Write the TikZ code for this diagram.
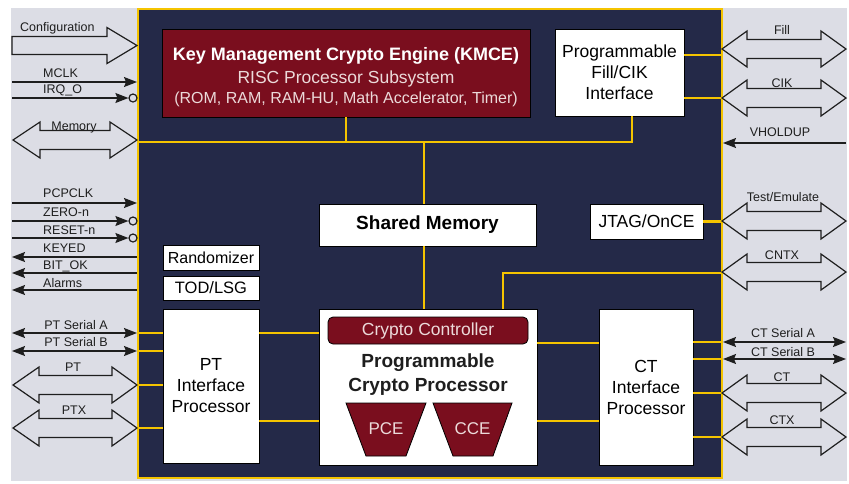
\documentclass[tikz,border=0pt]{standalone}
\usepackage{fontspec}
\setmainfont{Liberation Sans}
\usetikzlibrary{arrows.meta}
\definecolor{navy}{RGB}{36,41,72}
\definecolor{yel}{RGB}{245,196,0}
\definecolor{dred}{RGB}{122,14,30}
\definecolor{bggray}{RGB}{220,221,229}
\definecolor{pinktxt}{RGB}{236,218,218}
\definecolor{ink}{RGB}{30,30,30}
\newcommand\dblarr[5]{\draw[fatarrow] ({#1},{#5}) -- ({#2},{#5-18}) -- ({#2},{#5-9.5}) -- ({#3},{#5-9.5}) -- ({#3},{#5-18}) -- ({#4},{#5}) -- ({#3},{#5+18}) -- ({#3},{#5+9.5}) -- ({#2},{#5+9.5}) -- ({#2},{#5+18}) -- cycle;}
\begin{document}
\begin{tikzpicture}[x=1pt,y=-1pt,
  box/.style={draw=black, line width=0.8pt, fill=white, inner sep=0pt, align=center, font=\fontsize{17.5}{21}\selectfont},
  redbox/.style={draw=black, line width=0.8pt, fill=dred, inner sep=0pt},
  bus/.style={yel, line width=2.6pt},
  sig/.style={line width=1.3pt, ink},
  tip/.style={-{Stealth[length=13pt,width=10pt,inset=2pt]}},
  tiptwo/.style={{Stealth[length=13pt,width=10pt,inset=2pt]}-{Stealth[length=13pt,width=10pt,inset=2pt]}},
  fatarrow/.style={draw=ink, line width=1.2pt, fill=bggray, line join=miter},
  lbl/.style={font=\fontsize{12.5}{14}\selectfont, inner sep=0pt, text=ink},
  inv/.style={circle, draw=ink, line width=1.2pt, fill=bggray, inner sep=0pt, minimum size=8pt},
  ptxt/.style={text=pinktxt, inner sep=0pt}
]
\useasboundingbox (0,0) rectangle (849,483);
\fill[white] (0,0) rectangle (849,483);
\fill[bggray] (11,8) rectangle (847,481);
\node[draw=yel, line width=2.5pt, fill=navy, minimum width=584pt, minimum height=469pt, inner sep=0pt] (main) at (430,243.5) {};

% KMCE
\node[redbox, minimum width=368pt, minimum height=88pt] (kmce) at (346,73) {};
\node[font=\bfseries\fontsize{18}{20}\selectfont, text=white, anchor=base, inner sep=0pt] (kmceA) at (346,60.5) {Key Management Crypto Engine (KMCE)};
\node[ptxt, font=\fontsize{17.5}{20}\selectfont, anchor=base] (kmceB) at (346,83.3) {RISC Processor Subsystem};
\node[ptxt, font=\fontsize{16}{20}\selectfont, anchor=base] (kmceC) at (346,103.8) {(ROM, RAM, RAM-HU, Math Accelerator, Timer)};

\node[box, minimum width=129pt, minimum height=87pt] (fillcik) at (619.5,72.5) {Programmable\\Fill/CIK\\Interface};
\node[box, font=\bfseries\fontsize{19}{22}\selectfont, minimum width=217pt, minimum height=42pt] (shm) at (427.5,225) {Shared Memory};
\node[box, minimum width=113pt, minimum height=35pt] (jtag) at (646.5,221.5) {JTAG/OnCE};
\node[box, font=\fontsize{16}{18}\selectfont, minimum width=96pt, minimum height=25pt] (rand) at (211,257.5) {Randomizer};
\node[box, font=\fontsize{16.5}{18}\selectfont, minimum width=96pt, minimum height=24pt] (tod) at (211,288) {TOD/LSG};
\node[box, minimum width=96pt, minimum height=154pt] (pt) at (211,386) {PT\\Interface\\Processor};
\node[box, minimum width=218pt, minimum height=156pt] (cp) at (428,387) {};
\node[box, minimum width=94pt, minimum height=156pt] (ct) at (646,387) {CT\\Interface\\Processor};
\node[redbox, rounded corners=5pt, minimum width=200pt, minimum height=27pt, text=pinktxt, font=\fontsize{17.5}{20}\selectfont] (cc) at (428,330.5) {Crypto Controller};
\node[font=\bfseries\fontsize{19}{24}\selectfont, align=center, inner sep=0pt, text=ink] (cpt) at (428,375) {Programmable\\Crypto Processor};
\draw[redbox] (346,403) -- (426,403) -- (406,456) -- (366,456) -- cycle;
\node[ptxt, font=\fontsize{17}{20}\selectfont] (pce) at (386,429) {PCE};
\draw[redbox] (433,403) -- (512,403) -- (493,456) -- (453,456) -- cycle;
\node[ptxt, font=\fontsize{17}{20}\selectfont] (cce) at (472.5,429) {CCE};

% buses
\coordinate (busL) at (138,142);
\coordinate (busR) at (632,142);
\coordinate (busM) at (424,142);
\draw[bus] (busL) -- (busR) -- (fillcik.south -| busR);
\draw[bus] (kmce.south) -- (kmce.south |- busL);
\draw[bus] (busM) -- (busM |- shm.north);
\draw[bus] (shm.south -| busM) -- (cp.north -| busM);
\coordinate (cntx) at (722,273);
\coordinate (cpB) at (503,273);
\draw[bus] (cntx) -- (cpB) -- (cpB |- cp.north);
\draw[bus] (jtag.east) -- (jtag.east -| main.east);
\foreach \y in {55,98} \draw[bus] (fillcik.east |- 0,\y) -- (main.east |- 0,\y);
\foreach \y in {333,351,385,428} \draw[bus] (main.west |- 0,\y) -- (pt.west |- 0,\y);
\foreach \y in {333,421} \draw[bus] (pt.east |- 0,\y) -- (cp.west |- 0,\y);
\foreach \y in {343,421} \draw[bus] (cp.east |- 0,\y) -- (ct.west |- 0,\y);
\foreach \y in {342,359,393,437} \draw[bus] (ct.east |- 0,\y) -- (main.east |- 0,\y);

% left signals
\draw[fatarrow] (12,36.5) -- (107,36.5) -- (107,27.5) -- (137,45.5) -- (107,63.5) -- (107,54.5) -- (12,54.5) -- cycle;
\node[lbl, anchor=base west] (lconf) at (20,31.5) {Configuration};
\draw[sig,tip] (12,82) -- (137,82);
\node[lbl, anchor=base west] (lmclk) at (43,77.5) {MCLK};
\node[inv] (irq) at (133,98) {};
\draw[sig,tip] (12,98) -- (irq.west);
\node[lbl, anchor=base west] (lirq) at (43,93.5) {IRQ\_O};
\dblarr{13}{40}{110}{137}{140}
\node[lbl, anchor=base] (lmem) at (74,130.5) {Memory};
\draw[sig,tip] (12,203) -- (137,203);
\node[lbl, anchor=base west] (lpcp) at (43,197.5) {PCPCLK};
\node[inv] (zero) at (133,221) {};
\draw[sig,tip] (12,221) -- (zero.west);
\node[lbl, anchor=base west] (lzero) at (43,216.5) {ZERO-n};
\node[inv] (reset) at (133,238) {};
\draw[sig,tip] (12,238) -- (reset.west);
\node[lbl, anchor=base west] (lreset) at (43,234.5) {RESET-n};
\draw[sig,tip] (137,257) -- (12,257);
\node[lbl, anchor=base west] (lkeyed) at (43,252.5) {KEYED};
\draw[sig,tip] (137,273) -- (12,273);
\node[lbl, anchor=base west] (lbit) at (43,269.5) {BIT\_OK};
\draw[sig,tip] (137,290) -- (12,290);
\node[lbl, anchor=base west] (lalarm) at (43,287.5) {Alarms};
\draw[sig,tiptwo] (12,333) -- (137,333);
\node[lbl, anchor=base] (lpsa) at (76,329.5) {PT Serial A};
\draw[sig,tiptwo] (12,351) -- (137,351);
\node[lbl, anchor=base] (lpsb) at (76,346.5) {PT Serial B};
\dblarr{13}{39}{112}{137}{385}
\node[lbl, anchor=base] (lpt) at (73,371.5) {PT};
\dblarr{13}{39}{112}{137}{428}
\node[lbl, anchor=base] (lptx) at (74,414.5) {PTX};

% right signals
\dblarr{722}{747}{821}{846}{49}
\node[lbl, anchor=base] (lfill) at (782,34) {Fill};
\dblarr{722}{747}{821}{846}{98}
\node[lbl, anchor=base] (lcik) at (782,87.5) {CIK};
\draw[sig,tip] (846,143) -- (723,143);
\node[lbl, anchor=base] (lvh) at (780,136.5) {VHOLDUP};
\dblarr{722}{747}{821}{846}{221}
\node[lbl, anchor=base] (ltest) at (783,201.5) {Test/Emulate};
\dblarr{722}{747}{821}{846}{272}
\node[lbl, anchor=base] (lcntx) at (782,259.5) {CNTX};
\draw[sig,tiptwo] (723,342) -- (846,342);
\node[lbl, anchor=base] (lcsa) at (783,337.5) {CT Serial A};
\draw[sig,tiptwo] (723,359) -- (846,359);
\node[lbl, anchor=base] (lcsb) at (783,356.5) {CT Serial B};
\dblarr{722}{747}{821}{846}{393}
\node[lbl, anchor=base] (lct) at (782,381.5) {CT};
\dblarr{722}{747}{821}{846}{437}
\node[lbl, anchor=base] (lctx) at (782,424.5) {CTX};
\end{tikzpicture}
\end{document}
